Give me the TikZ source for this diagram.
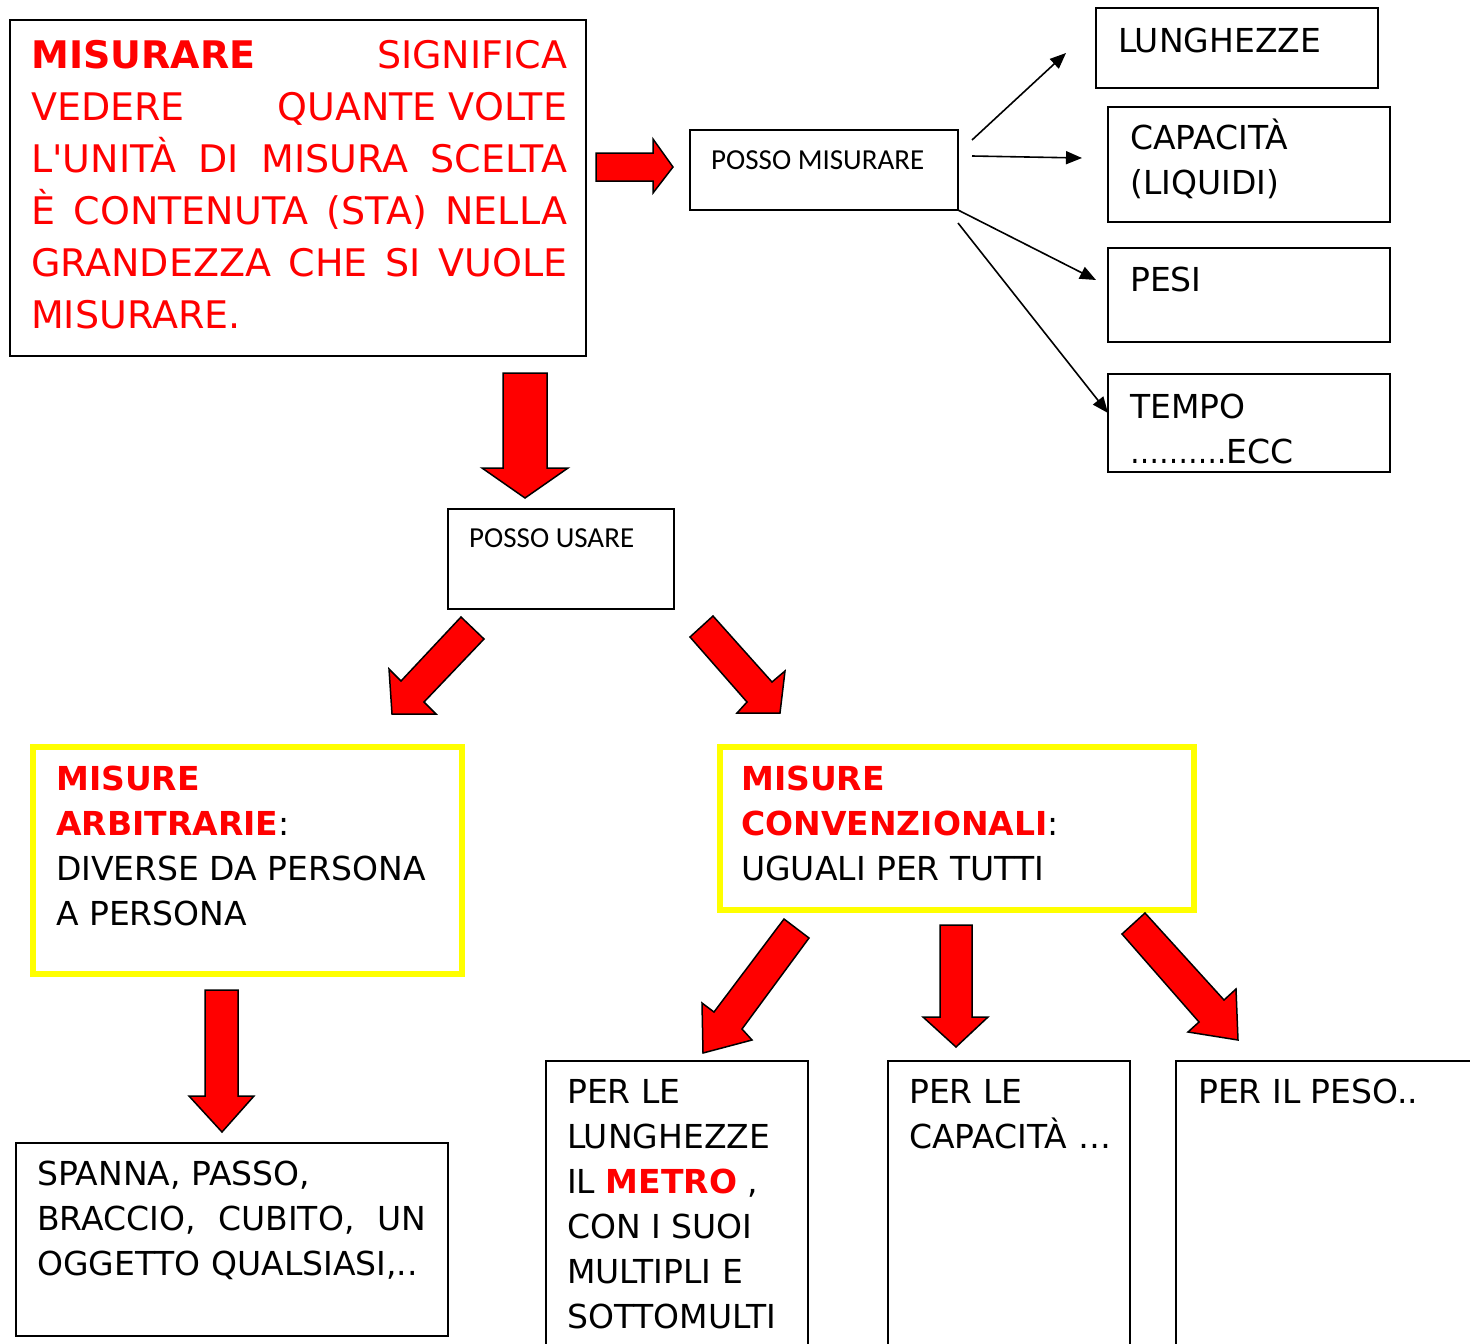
\documentclass[tikz,border=0pt]{standalone}
\usepackage{fontspec}
\setmainfont{DejaVu Sans}
\newfontfamily\calfont{Carlito}
\usetikzlibrary{arrows.meta}
\definecolor{pured}{RGB}{255,0,0}
\definecolor{purey}{RGB}{255,255,0}
\newcommand\fbig{\fontsize{38}{52}\selectfont}
\newcommand\fmid{\fontsize{33}{45}\selectfont}
\newcommand\fcal{\calfont\fontsize{29}{35}\selectfont}
\newcommand\straightapos{\XeTeXglyph\the\XeTeXcharglyph"27\relax}
\begin{document}
\begin{tikzpicture}[x=1pt,y=-1pt,
  box/.style={draw=black,line width=2pt,anchor=north west,inner sep=0pt,outer sep=0pt},
  ybox/.style={draw=purey,line width=6pt,anchor=north west,inner sep=0pt,outer sep=0pt},
  txt/.style={anchor=base west,inner sep=0pt},
  conn/.style={draw=black,line width=1.6pt,-{Triangle[length=16pt,width=13pt]}},
  blockarrow/.style={fill=pured,draw=black,line width=1.5pt,line join=miter}
]
\useasboundingbox (0,0) rectangle (1470,1344);
\fill[white] (0,0) rectangle (1470,1344);

% ---------- main box ----------
\node[box,minimum width=576pt,minimum height=336pt] (mainbox) at (10,20) {};
\node[txt,text=pured,font=\fbig] (m1) at (31,68) {\makebox[536pt][s]{\textbf{MISURARE}\hfill SIGNIFICA}};
\node[txt,text=pured,font=\fbig] (m2) at (31,120) {\makebox[536pt][s]{VEDERE\hfill QUANTE VOLTE}};
\node[txt,text=pured,font=\fbig] (m3) at (31,172) {\makebox[536pt][s]{L\straightapos UNITÀ DI MISURA SCELTA}};
\node[txt,text=pured,font=\fbig] (m4) at (31,224) {\makebox[536pt][s]{È CONTENUTA (STA) NELLA}};
\node[txt,text=pured,font=\fbig] (m5) at (31,276) {\makebox[536pt][s]{GRANDEZZA CHE SI VUOLE}};
\node[txt,text=pured,font=\fbig] (m6) at (31,328) {MISURARE.};

% ---------- right block arrow ----------
\draw[blockarrow] (596,153) -- (653,153) -- (653,139) -- (673,167) -- (653,193) -- (653,181) -- (596,181) -- cycle;

% ---------- POSSO MISURARE ----------
\node[box,minimum width=268pt,minimum height=80pt] (pm) at (690,130) {};
\node[txt,font=\fcal] (pmt) at (711,169) {POSSO MISURARE};

% ---------- right boxes ----------
\node[box,minimum width=282pt,minimum height=80pt] (lung) at (1096,8) {};
\node[txt,font=\fmid] (lungt) at (1118,52) {LUNGHEZZE};
\node[box,minimum width=282pt,minimum height=115pt] (cap) at (1108,107) {};
\node[txt,font=\fmid] (capt1) at (1130,149) {CAPACITÀ};
\node[txt,font=\fmid] (capt2) at (1130,194) {(LIQUIDI)};
\node[box,minimum width=282pt,minimum height=94pt] (pesi) at (1108,248) {};
\node[txt,font=\fmid] (pesit) at (1130,291) {PESI};
\node[box,minimum width=282pt,minimum height=98pt] (tempo) at (1108,374) {};
\node[txt,font=\fmid] (tempot1) at (1130,418) {TEMPO};
\node[txt,font=\fmid] (tempot2) at (1130,463) {\scalebox{0.88}[1]{……….}ECC};

% ---------- black connectors ----------
\coordinate (c1s) at (972,140); \coordinate (c1e) at (1066,53);
\coordinate (c2s) at (972,156); \coordinate (c2e) at (1082,158);
\coordinate (c3s) at (958,210); \coordinate (c3e) at (1096,280);
\coordinate (c4s) at (958,223); \coordinate (c4e) at (1108,413);
\draw[conn] (c1s) -- (c1e);
\draw[conn] (c2s) -- (c2e);
\draw[conn] (c3s) -- (c3e);
\draw[conn] (c4s) -- (c4e);

% ---------- down arrow to POSSO USARE ----------
\draw[blockarrow] (503,373) -- (547,373) -- (547,468) -- (568,468) -- (525,498) -- (482,468) -- (503,468) -- cycle;

\node[box,minimum width=226pt,minimum height=100pt] (pu) at (448,509) {};
\node[txt,font=\fcal] (put) at (469,547) {POSSO USARE};

% ---------- diagonal arrows ----------
\draw[blockarrow] (461,617) -- (484,639) -- (424,702) -- (436,714) -- (392,714) -- (389,669) -- (401,681) -- cycle;
\draw[blockarrow] (713,616) -- (772,682) -- (785,671) -- (780,713) -- (737,713) -- (747,702) -- (690,637) -- cycle;

% ---------- yellow boxes ----------
\node[ybox,minimum width=429pt,minimum height=227pt] (arb) at (33,747) {};
\node[txt,font=\fmid,text=pured] (arb1) at (56,790) {\textbf{MISURE}};
\node[txt,font=\fmid] (arb2) at (56,835) {\textcolor{pured}{\textbf{ARBITRARIE}}:};
\node[txt,font=\fmid] (arb3) at (56,880) {DIVERSE DA PERSONA};
\node[txt,font=\fmid] (arb4) at (56,925) {A PERSONA};

\node[ybox,minimum width=474pt,minimum height=163pt] (conv) at (720,747) {};
\node[txt,font=\fmid,text=pured] (conv1) at (741,790) {\textbf{MISURE}};
\node[txt,font=\fmid] (conv2) at (741,835) {\textcolor{pured}{\textbf{CONVENZIONALI}}:};
\node[txt,font=\fmid] (conv3) at (741,880) {UGUALI PER TUTTI};

% ---------- arrow below left yellow box ----------
\draw[blockarrow] (205,990) -- (238,990) -- (238,1096) -- (254,1096) -- (222,1132) -- (189,1096) -- (205,1096) -- cycle;

\node[box,minimum width=432pt,minimum height=193pt] (span) at (16,1143) {};
\node[txt,font=\fmid] (span1) at (37,1185) {SPANNA, PASSO,};
\node[txt,font=\fmid] (span2) at (37,1230) {\makebox[389pt][s]{BRACCIO, CUBITO, UN}};
\node[txt,font=\fmid] (span3) at (37,1275) {OGGETTO QUALSIASI,..};

% ---------- arrows below right yellow box ----------
\draw[blockarrow] (784,919) -- (809,938) -- (742,1029) -- (752,1040) -- (703,1053) -- (702,1003) -- (714,1012) -- cycle;
\draw[blockarrow] (940,925) -- (972,925) -- (972,1017) -- (988,1017) -- (956,1047) -- (923,1017) -- (940,1017) -- cycle;
\draw[blockarrow] (1145,913) -- (1224,1000) -- (1236,989) -- (1238,1040) -- (1188,1032) -- (1199,1022) -- (1122,934) -- cycle;

% ---------- bottom boxes ----------
\node[box,minimum width=262pt,minimum height=300pt] (b1) at (546,1061) {};
\node[txt,font=\fmid] (b1a) at (567,1103) {PER LE};
\node[txt,font=\fmid] (b1b) at (567,1148) {LUNGHEZZE};
\node[txt,font=\fmid] (b1c) at (567,1193) {IL \textcolor{pured}{\textbf{METRO}} ,};
\node[txt,font=\fmid] (b1d) at (567,1238) {CON I SUOI};
\node[txt,font=\fmid] (b1e) at (567,1283) {MULTIPLI E};
\node[txt,font=\fmid] (b1f) at (567,1328) {SOTTOMULTI};

\node[box,minimum width=242pt,minimum height=300pt] (b2) at (888,1061) {};
\node[txt,font=\fmid] (b2a) at (909,1103) {PER LE};
\node[txt,font=\fmid] (b2b) at (909,1148) {CAPACITÀ …};

\node[box,minimum width=310pt,minimum height=300pt] (b3) at (1176,1061) {};
\node[txt,font=\fmid] (b3a) at (1198,1103) {PER IL PESO..};
\end{tikzpicture}
\end{document}
